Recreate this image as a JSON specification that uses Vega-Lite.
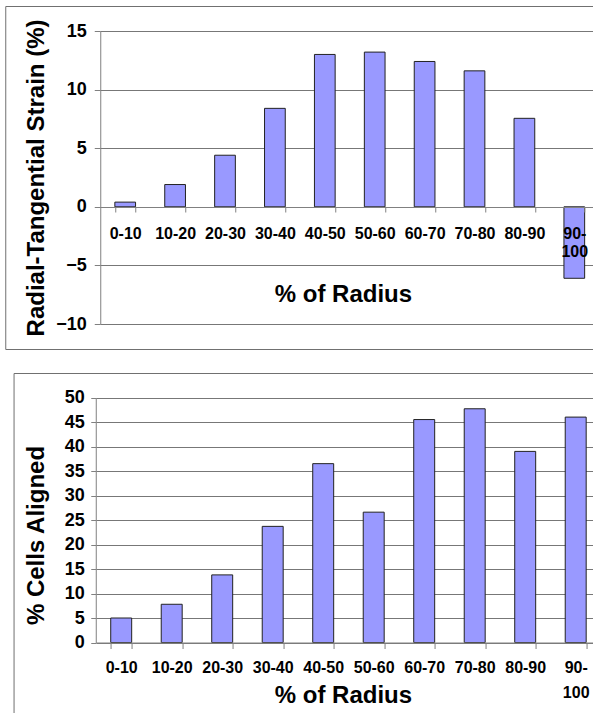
{
  "$schema": "https://vega.github.io/schema/vega-lite/v6.json",
  "padding": {"left": 4, "top": 5, "right": 0, "bottom": 0},
  "background": "white",
  "spacing": 22,
  "center": true,
  "config": {
    "view": {"stroke": "#707070", "strokeWidth": 1},
    "font": "Liberation Sans",
    "axis": {
      "labelFont": "Liberation Sans",
      "titleFont": "Liberation Sans",
      "labelFontWeight": "bold",
      "titleFontWeight": "bold",
      "labelColor": "#000000",
      "titleColor": "#000000",
      "domainColor": "#808080",
      "tickColor": "#808080",
      "gridColor": "#777777",
      "gridOpacity": 1,
      "labelOverlap": false
    }
  },
  "datasets": {
    "strain": [
      {"radius": "0-10", "strain": 0.4},
      {"radius": "10-20", "strain": 1.9},
      {"radius": "20-30", "strain": 4.4},
      {"radius": "30-40", "strain": 8.4},
      {"radius": "40-50", "strain": 13.0},
      {"radius": "50-60", "strain": 13.2},
      {"radius": "60-70", "strain": 12.4},
      {"radius": "70-80", "strain": 11.6},
      {"radius": "80-90", "strain": 7.55},
      {"radius": "90-100", "strain": -6.1}
    ],
    "cells": [
      {"radius": "0-10", "aligned": 5.0},
      {"radius": "10-20", "aligned": 7.8},
      {"radius": "20-30", "aligned": 13.8},
      {"radius": "30-40", "aligned": 23.7},
      {"radius": "40-50", "aligned": 36.5},
      {"radius": "50-60", "aligned": 26.6},
      {"radius": "60-70", "aligned": 45.5},
      {"radius": "70-80", "aligned": 47.7},
      {"radius": "80-90", "aligned": 39.0},
      {"radius": "90-100", "aligned": 46.0}
    ]
  },
  "vconcat": [
    {
      "width": 606,
      "height": 343,
      "data": {"name": "strain"},
      "mark": {"type": "bar", "fill": "#9999ff", "stroke": "#222222", "strokeWidth": 1},
      "encoding": {
        "x": {
          "field": "radius",
          "type": "nominal",
          "sort": null,
          "scale": {"range": [95, 594], "paddingInner": 0.585, "paddingOuter": 0.2925},
          "axis": {
            "orient": "bottom",
            "offset": -142,
            "zindex": 1,
            "tickBand": "extent",
            "labelAngle": 0,
            "labelFontSize": 16,
            "labelPadding": 13,
            "labelBaseline": "top",
            "labelLineHeight": 18.5,
            "labelExpr": "datum.value == '90-100' ? ['90-', '100'] : datum.label",
            "tickSize": 5,
            "title": "% of Radius",
            "titleFontSize": 24,
            "titleX": 337.7,
            "titleY": 75,
            "titleBaseline": "top",
            "titleAlign": "center"
          }
        },
        "y": {
          "field": "strain",
          "type": "quantitative",
          "scale": {"domain": [-10, 15], "range": [318, 25], "nice": false},
          "axis": {
            "offset": -95,
            "values": [-10, -5, 0, 5, 10, 15],
            "tickSize": 6,
            "labelPadding": 8,
            "labelFontSize": 18,
            "grid": true,
            "title": "Radial-Tangential Strain (%)",
            "titleFontSize": 24,
            "titleX": -52
          }
        }
      }
    },
    {
      "width": 589.4,
      "height": 348,
      "data": {"name": "cells"},
      "mark": {"type": "bar", "fill": "#9999ff", "stroke": "#222222", "strokeWidth": 1},
      "encoding": {
        "x": {
          "field": "radius",
          "type": "nominal",
          "sort": null,
          "scale": {"range": [82.4, 587.4], "paddingInner": 0.585, "paddingOuter": 0.2925},
          "axis": {
            "orient": "bottom",
            "offset": -78.5,
            "zindex": 1,
            "tickBand": "extent",
            "labelAngle": 0,
            "labelFontSize": 16,
            "labelPadding": 11,
            "labelBaseline": "top",
            "labelLineHeight": 25,
            "labelExpr": "datum.value == '90-100' ? ['90-', '100'] : datum.label",
            "tickSize": 6,
            "title": "% of Radius",
            "titleFontSize": 24,
            "titleX": 329.4,
            "titleY": 41,
            "titleBaseline": "top",
            "titleAlign": "center"
          }
        },
        "y": {
          "field": "aligned",
          "type": "quantitative",
          "scale": {"domain": [0, 50], "range": [269.5, 24.5], "nice": false},
          "axis": {
            "offset": -82.2,
            "values": [0, 5, 10, 15, 20, 25, 30, 35, 40, 45, 50],
            "tickSize": 5,
            "labelPadding": 6.5,
            "labelFontSize": 18,
            "grid": true,
            "title": "% Cells Aligned",
            "titleFontSize": 24,
            "titleX": -47.5,
            "titleY": 162
          }
        }
      }
    }
  ]
}
